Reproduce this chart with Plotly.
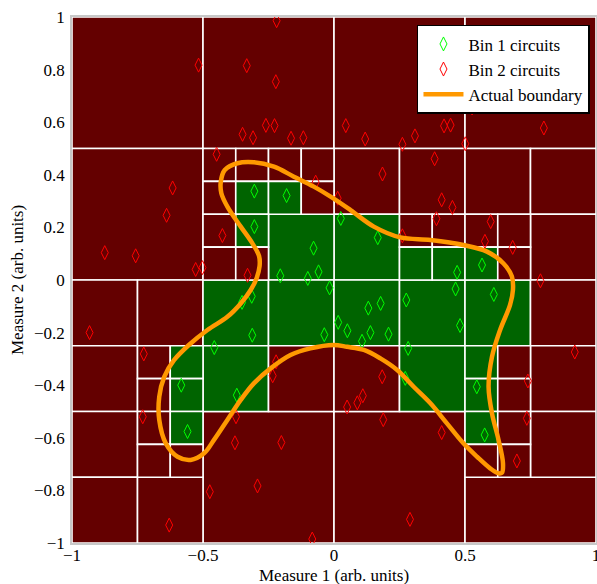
import plotly.graph_objects as go

# Partition cells: bounds and the bin each cell is assigned to (1 = Bin 1, 2 = Bin 2)
cell_x0 = [-1, -0.5, 0, 0.5, -1, -0.5, 0, 0.5,
           0, 0.25, 0, 0.5, 0.75, 0.75, -0.25, -1, -0.75, -1, -1, -1, -0.75,
           -0.5, -0.25, -0.5, -0.25, 0, 0.25, 0, 0.25, 0.5, 0.75, 0.75, 0.75,
           -0.5, -0.375, -0.5, -0.375,
           -0.25, -0.125, -0.25, -0.125,
           -0.5, -0.375, -0.5, -0.375,
           0.25, 0.375, 0.25, 0.375,
           0.5, 0.625, 0.5, 0.625,
           -0.75, -0.625, -0.75, -0.625,
           -0.75, -0.625, -0.75, -0.625,
           0.5, 0.625, 0.5, 0.625,
           0.5, 0.625, 0.5, 0.625]
cell_x1 = [-0.5, 0, 0.5, 1, -0.5, 0, 0.5, 1,
           0.25, 0.5, 0.25, 0.75, 1, 1, 0, -0.75, -0.5, -0.75, -0.75, -0.75, -0.5,
           -0.25, 0, -0.25, 0, 0.25, 0.5, 0.25, 0.5, 0.75, 1, 1, 1,
           -0.375, -0.25, -0.375, -0.25,
           -0.125, 0, -0.125, 0,
           -0.375, -0.25, -0.375, -0.25,
           0.375, 0.5, 0.375, 0.5,
           0.625, 0.75, 0.625, 0.75,
           -0.625, -0.5, -0.625, -0.5,
           -0.625, -0.5, -0.625, -0.5,
           0.625, 0.75, 0.625, 0.75,
           0.625, 0.75, 0.625, 0.75]
cell_y0 = [0.5, 0.5, 0.5, 0.5, 0, -1, -1, -1,
           0.25, 0.25, 0, 0.25, 0.25, 0, 0, -0.25, -0.25, -0.5, -0.75, -1, -1,
           -0.25, -0.25, -0.5, -0.5, -0.25, -0.25, -0.5, -0.5, -0.25, -0.25, -0.5, -0.75,
           0.375, 0.375, 0.25, 0.25,
           0.375, 0.375, 0.25, 0.25,
           0.125, 0.125, 0, 0,
           0.125, 0.125, 0, 0,
           0.125, 0.125, 0, 0,
           -0.375, -0.375, -0.5, -0.5,
           -0.625, -0.625, -0.75, -0.75,
           -0.375, -0.375, -0.5, -0.5,
           -0.625, -0.625, -0.75, -0.75]
cell_y1 = [1, 1, 1, 1, 0.5, -0.5, -0.5, -0.75,
           0.5, 0.5, 0.25, 0.5, 0.5, 0.25, 0.25, 0, 0, -0.25, -0.5, -0.75, -0.75,
           0, 0, -0.25, -0.25, 0, 0, -0.25, -0.25, 0, 0, -0.25, -0.5,
           0.5, 0.5, 0.375, 0.375,
           0.5, 0.5, 0.375, 0.375,
           0.25, 0.25, 0.125, 0.125,
           0.25, 0.25, 0.125, 0.125,
           0.25, 0.25, 0.125, 0.125,
           -0.25, -0.25, -0.375, -0.375,
           -0.5, -0.5, -0.625, -0.625,
           -0.25, -0.25, -0.375, -0.375,
           -0.5, -0.5, -0.625, -0.625]
cell_bin = [2, 2, 2, 2, 2, 2, 2, 2,
            2, 2, 1, 2, 2, 2, 1, 2, 2, 2, 2, 2, 2,
            1, 1, 1, 2, 1, 1, 2, 1, 1, 2, 2, 2,
            2, 2, 2, 1,
            2, 2, 1, 2,
            2, 1, 2, 2,
            2, 2, 1, 1,
            2, 2, 1, 2,
            2, 1, 2, 1,
            2, 1, 2, 2,
            1, 2, 1, 2,
            1, 2, 2, 2]

# Measured circuits
bin1_x = [-0.304, -0.181, -0.304, -0.078, -0.059, -0.100, -0.205, -0.017, 0.026, 0.167,
          -0.351, -0.314, -0.312, -0.457, -0.583, -0.371, -0.559, -0.037, 0.016, 0.051,
          0.107, 0.139, 0.131, 0.178, 0.208, 0.276, 0.283, 0.272, 0.464, 0.610,
          0.481, 0.545, 0.575, 0.565, 0.470]
bin1_y = [0.338, 0.321, 0.203, 0.121, 0.031, 0.006, 0.016, -0.030, 0.234, 0.161,
          -0.085, -0.062, -0.210, -0.257, -0.400, -0.438, -0.576, -0.208, -0.161, -0.193,
          -0.233, -0.200, -0.107, -0.089, -0.206, -0.076, -0.260, -0.374, -0.034, -0.055,
          -0.173, -0.406, -0.589, 0.057, 0.029]

bin2_x = [-0.517, -0.333, -0.219, -0.222, -0.349, -0.309, -0.260, -0.227, -0.164, -0.117,
          -0.448, -0.070, -0.616, -0.639, -0.426, -0.875, -0.757, -0.528, -0.502, -0.330,
          0.014, 0.045, 0.119, 0.261, 0.309, 0.420, 0.445, 0.501, 0.527, 0.801,
          0.872, 0.185, 0.384, 0.411, 0.452, 0.391, 0.598, 0.576, 0.682, 0.261,
          0.788, -0.933, -0.726, -0.730, -0.234, -0.221, -0.374, -0.378, -0.201, -0.292,
          -0.474, -0.629, -0.083, 0.184, 0.110, 0.089, 0.050, 0.188, 0.411, 0.919,
          0.740, 0.736, 0.698, 0.290]
bin2_y = [0.817, 0.815, 0.986, 0.754, 0.554, 0.541, 0.588, 0.587, 0.539, 0.541,
          0.478, 0.372, 0.350, 0.246, 0.169, 0.104, 0.092, 0.040, 0.047, 0.018,
          0.311, 0.587, 0.536, 0.516, 0.548, 0.586, 0.589, 0.518, 0.654, 0.578,
          0.710, 0.403, 0.461, 0.305, 0.276, 0.233, 0.222, 0.147, 0.124, 0.168,
          -0.003, -0.200, -0.281, -0.520, -0.364, -0.311, -0.520, -0.619, -0.618, -0.783,
          -0.805, -0.932, -0.985, -0.368, -0.440, -0.467, -0.483, -0.531, -0.580, -0.274,
          -0.384, -0.526, -0.688, -0.910]

# Actual boundary (closed contour)
bound_x = [-0.369, -0.306, -0.229, -0.153, -0.077, -0.013, 0.063, 0.152, 0.253, 0.368,
           0.494, 0.584, 0.647, 0.679, 0.683, 0.672, 0.634, 0.603, 0.590, 0.603,
           0.628, 0.645, 0.641, 0.628, 0.596, 0.546, 0.494, 0.431, 0.368, 0.304,
           0.241, 0.177, 0.114, 0.050, -0.002, -0.090, -0.166, -0.242, -0.306, -0.356,
           -0.407, -0.458, -0.496, -0.547, -0.597, -0.642, -0.667, -0.667, -0.648, -0.610,
           -0.554, -0.483, -0.407, -0.356, -0.318, -0.295, -0.284, -0.286, -0.312, -0.356,
           -0.407, -0.430, -0.432, -0.417, -0.369]
bound_y = [0.444, 0.448, 0.431, 0.393, 0.355, 0.317, 0.266, 0.203, 0.162, 0.152,
           0.133, 0.108, 0.063, 0.013, -0.038, -0.095, -0.190, -0.292, -0.406, -0.507,
           -0.608, -0.697, -0.733, -0.735, -0.716, -0.672, -0.621, -0.545, -0.469, -0.406,
           -0.342, -0.298, -0.266, -0.254, -0.247, -0.260, -0.285, -0.336, -0.393, -0.456,
           -0.532, -0.608, -0.659, -0.684, -0.672, -0.621, -0.532, -0.444, -0.368, -0.304,
           -0.247, -0.190, -0.140, -0.089, -0.038, 0.008, 0.053, 0.091, 0.140, 0.203,
           0.279, 0.330, 0.374, 0.418, 0.444]

tick_vals_x = [-1, -0.5, 0, 0.5, 1]
tick_text_x = ["\u22121", "\u22120.5", "0", "0.5", "1"]
tick_vals_y = [-1, -0.8, -0.6, -0.4, -0.2, 0, 0.2, 0.4, 0.6, 0.8, 1]
tick_text_y = ["\u22121", "\u22120.8", "\u22120.6", "\u22120.4", "\u22120.2", "0",
               "0.2", "0.4", "0.6", "0.8", "1"]

BIN_FILL = {1: "#006400", 2: "#640000"}
FONT = "Liberation Serif"

fig = go.Figure()

shapes = []
for x0, x1, y0, y1, b in zip(cell_x0, cell_x1, cell_y0, cell_y1, cell_bin):
    shapes.append(dict(type="rect", xref="x", yref="y", x0=x0, x1=x1, y0=y0, y1=y1,
                       fillcolor=BIN_FILL[b], line=dict(color="white", width=1.6),
                       layer="below"))

fig.add_trace(go.Scatter(x=bin1_x, y=bin1_y, mode="markers", name="Bin 1 circuits",
                         marker=dict(symbol="diamond-tall-open", size=10, color="#00ff00",
                                     line=dict(width=1, color="#00ff00"))))
fig.add_trace(go.Scatter(x=bin2_x, y=bin2_y, mode="markers", name="Bin 2 circuits",
                         marker=dict(symbol="diamond-tall-open", size=10, color="#ff0000",
                                     line=dict(width=1, color="#ff0000"))))
fig.add_trace(go.Scatter(x=bound_x, y=bound_y, mode="lines", name="Actual boundary",
                         line=dict(color="#ff9900", width=4.5, shape="spline", smoothing=1.0)))

fig.update_layout(
    width=597, height=584,
    margin=dict(l=72, r=1, t=17, b=41, autoexpand=False),
    paper_bgcolor="white", plot_bgcolor="#640000",
    shapes=shapes,
    font=dict(family=FONT, size=17, color="black"),
    showlegend=True,
    legend=dict(x=0.9885, y=0.985, xanchor="right", yanchor="top",
                bgcolor="white", bordercolor="black", borderwidth=1.5,
                font=dict(family=FONT, size=17, color="black"),
                itemwidth=40, tracegroupgap=0),
    annotations=[
        dict(text="Measure 1 (arb. units)", xref="paper", yref="paper", x=0.5, y=0,
             xanchor="center", yanchor="top", yshift=-21, showarrow=False,
             font=dict(family=FONT, size=17, color="black")),
        dict(text="Measure 2 (arb. units)", xref="paper", yref="paper", x=0, y=0.5,
             xanchor="center", yanchor="middle", xshift=-55, textangle=-90, showarrow=False,
             font=dict(family=FONT, size=17, color="black")),
    ],
)
fig.update_xaxes(range=[-1, 1], tickvals=tick_vals_x, ticktext=tick_text_x, automargin=False,
                 showgrid=False, zeroline=False, showline=True, linecolor="#c8c8c8",
                 linewidth=1.5, mirror=True, ticks="", ticklabelstandoff=-4,
                 ticklabeloverflow="allow", tickfont=dict(family=FONT, size=17))
fig.update_yaxes(range=[-1, 1], tickvals=tick_vals_y, ticktext=tick_text_y, automargin=False,
                 showgrid=False, zeroline=False, showline=True, linecolor="#c8c8c8",
                 linewidth=1.5, mirror=True, ticks="", ticklabelstandoff=2,
                 ticklabeloverflow="allow", tickfont=dict(family=FONT, size=17))

fig.write_html("out.html")
